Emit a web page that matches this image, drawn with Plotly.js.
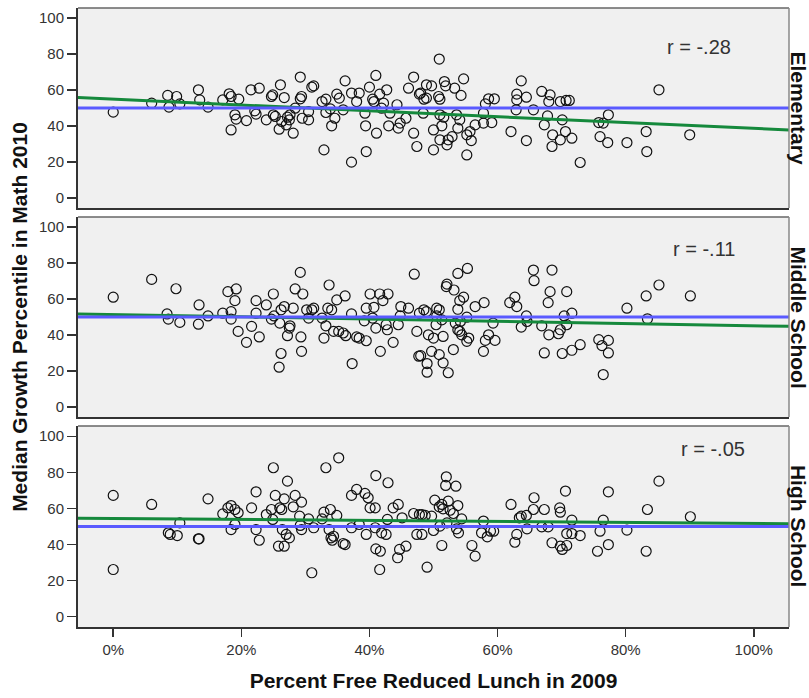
<!DOCTYPE html>
<html>
<head>
<meta charset="utf-8">
<script src="https://cdn.plot.ly/plotly-3.0.1.min.js"></script>
<style>html,body{margin:0;padding:0;background:#fff;}#chart{width:809px;height:698px;}</style>
</head>
<body>
<div id="chart"></div>
<script>
// ---- Data (percent free/reduced lunch 2009, median growth percentile math 2010) ----
const elemX = [0,6.0,8.5,8.7,9.9,10.4,13.3,13.5,14.8,17.1,18.1,18.4,19.6,19.0,19.2,18.4,20.8,21.5,22.8,22.3,22.1,23.9,24.7,24.9,26.1,26.7,25.0,25.3,25.9,26.3,27.2,27.5,27.0,28.1,27.6,29.2,29.4,29.2,28.4,29.5,30.5,30.5,31.0,31.3,32.6,33.2,32.9,33.2,33.9,34.1,34.6,34.9,35.3,36.2,35.9,37.2,37.2,38.0,38.4,39.3,39.4,39.5,40.0,40.5,41.0,40.7,41.1,41.6,41.9,42.2,42.7,43.0,43.2,44.3,44.5,44.8,45.7,46.1,46.9,46.9,47.4,47.8,
  50.9,48.0,48.9,49.7,48.5,48.9,50.8,51.0,51.7,51.9,53.3,54.7,54.3,48.4,51.0,51.3,51.6,50.0,50.0,51.0,52.3,52.1,52.9,53.6,54.1,53.8,55.2,55.7,55.9,55.2,56.5,57.8,58.1,58.6,59.5,59.1,57.8,62.1,63.0,63.0,62.9,63.7,64.5,64.5,65.6,66.9,67.3,68.2,68.0,67.8,68.6,68.5,69.8,70.1,69.8,70.6,70.7,71.2,71.6,72.9,75.8,76.5,77.3,76.0,77.2,80.2,83.2,83.3,85.2,90.0];
const elemY = [47.7,52.7,57.0,50.5,56.4,52.3,60.1,54.5,50.5,54.5,57.9,56.4,54.9,46.2,43.8,37.8,43.0,60.1,61.0,46.6,48.4,43.4,56.4,57.3,62.9,55.8,46.2,45.3,38.2,42.5,44.9,43.4,40.6,36.0,46.2,67.2,56.4,55.1,49.9,44.3,43.4,48.0,61.6,62.3,53.6,54.9,26.7,47.5,49.5,40.1,44.3,57.7,55.5,65.1,49.0,58.3,19.9,53.6,58.3,47.1,40.1,25.8,61.6,54.9,68.1,53.6,36.0,57.7,49.9,52.7,60.1,40.1,47.1,51.8,38.8,41.6,44.3,61.0,67.2,36.0,28.6,57.7,
  77.2,58.3,62.9,62.3,54.9,55.5,56.4,54.9,64.7,62.3,61.0,66.2,57.0,47.1,46.2,40.1,44.9,37.8,26.7,32.3,32.3,29.5,34.1,46.2,43.4,38.8,35.1,36.9,31.9,23.9,40.6,47.1,52.3,55.1,55.1,41.9,41.6,36.9,57.7,54.5,49.0,65.1,56.0,31.9,49.0,59.2,40.6,57.3,53.6,45.6,35.1,28.6,53.6,43.4,32.3,36.9,54.2,54.2,33.2,19.7,41.9,41.6,46.2,34.1,30.8,30.8,36.9,25.8,60.1,35.1];

const middleX = [0,6.0,9.8,8.4,8.6,10.4,13.4,13.3,14.8,17.1,17.9,19.2,19.0,18.4,18.4,19.5,20.8,21.6,22.3,22.3,22.8,23.9,25.0,24.7,25.1,26.2,26.7,26.0,27.2,26.2,25.9,27.5,27.6,28.1,28.4,29.2,29.6,29.3,29.4,30.2,30.5,31.0,31.3,32.6,32.9,33.2,33.5,33.7,34.1,34.4,34.9,35.2,35.9,36.2,36.3,37.2,37.3,38.0,38.4,39.5,39.2,39.5,40.1,40.5,40.7,41.0,41.7,41.6,42.1,42.9,42.6,42.8,43.7,44.5,44.8,44.9,46.1,47.0,47.4,47.7,47.8,
  53.8,55.3,52.1,52.0,53.2,54.7,54.1,53.8,56.5,57.9,59.3,58.6,58.1,59.6,57.8,55.2,55.5,54.4,54.1,53.1,51.5,51.5,52.3,49.0,49.0,48.0,49.7,50.9,50.0,49.2,50.4,50.5,50.9,50.5,51.3,48.9,48.5,54.2,53.4,55.2,53.8,61.9,62.7,63.0,64.5,64.6,63.7,65.6,65.7,68.5,68.2,67.9,70.8,66.9,68.0,67.3,69.8,69.5,70.1,70.4,70.8,71.6,71.6,72.9,75.8,76.3,77.3,77.3,76.5,80.2,83.2,85.2,83.4,90.1];
const middleY = [61.0,70.9,65.7,51.7,48.8,47.0,56.7,46.0,50.6,52.1,64.1,65.6,59.1,53.0,48.8,42.0,35.9,44.8,59.1,52.1,38.9,56.7,62.8,48.8,50.6,54.0,55.8,46.6,39.6,29.7,22.1,43.8,45.1,54.9,65.6,74.8,62.8,38.9,30.9,54.0,49.4,54.0,54.9,49.4,38.3,45.1,54.9,67.8,54.0,42.0,59.5,42.0,41.1,61.7,39.6,51.7,24.1,38.9,38.3,36.8,47.9,54.9,62.8,49.4,55.4,43.8,30.9,62.8,59.1,62.8,45.7,42.9,35.9,45.7,50.6,55.8,54.9,73.8,42.0,28.2,52.1,
  74.2,77.0,68.3,66.9,65.0,61.0,59.1,54.3,55.8,58.0,46.6,40.1,37.0,37.0,30.9,36.5,38.3,40.1,42.0,31.9,39.2,24.5,19.0,19.3,24.1,28.5,30.9,29.1,38.3,40.1,45.7,54.9,54.0,50.6,48.4,53.0,54.0,47.5,46.6,49.9,42.9,58.0,61.0,55.8,50.6,47.5,44.4,76.1,70.2,76.1,64.1,58.0,64.1,45.1,40.1,30.0,42.9,40.7,29.7,50.6,45.7,52.1,31.5,34.6,37.4,34.1,37.0,30.0,18.0,54.9,61.7,67.8,49.0,61.7];

const highX = [0,0,6.0,8.6,8.9,10.0,10.4,13.3,13.4,14.8,17.1,17.9,18.4,19.0,19.5,19.0,18.4,21.6,22.3,22.3,22.8,23.9,24.7,24.9,25.0,25.3,26.0,26.3,26.7,27.2,25.8,26.7,27.0,27.5,26.4,28.1,28.4,29.4,29.1,29.4,29.2,30.5,31.3,31.0,32.6,32.9,33.2,33.9,34.9,33.7,34.0,34.2,34.4,35.2,35.9,36.2,37.2,37.2,38.0,38.4,39.3,39.8,39.5,40.1,40.9,41.0,40.9,41.0,41.7,41.6,41.9,42.6,42.9,42.8,43.7,44.5,44.7,44.4,45.7,45.1,46.9,47.4,47.8,
  49.0,51.3,50.0,49.7,50.2,50.9,51.3,52.0,51.9,53.5,52.3,51.5,52.6,53.8,53.1,54.4,53.9,53.6,51.0,52.1,48.2,48.7,56.0,56.5,57.8,57.5,58.4,59.4,58.9,48.2,62.1,62.7,63.0,63.4,63.7,64.5,64.6,65.6,65.7,66.9,67.3,67.9,68.5,69.7,69.8,69.8,70.1,70.6,70.8,70.8,71.6,71.6,72.9,75.6,76.0,76.5,77.3,77.3,80.2,83.2,83.4,85.2,90.1];
const highY = [67.2,26.2,62.2,46.5,45.6,45.0,52.0,43.2,43.2,65.3,57.0,60.3,61.6,59.4,57.6,51.1,48.3,60.3,69.2,48.3,42.4,56.6,59.4,53.9,82.5,67.2,60.3,59.4,65.3,75.1,39.1,39.1,45.6,43.7,48.3,60.9,67.2,63.5,55.7,48.3,50.6,54.2,49.3,24.4,54.2,57.9,82.5,59.4,56.1,48.3,43.7,42.4,44.6,88.0,40.6,40.0,49.3,67.2,70.5,51.1,68.3,65.9,45.6,60.3,60.3,78.2,49.3,37.6,36.3,26.2,46.5,45.6,74.2,53.9,60.3,62.2,37.3,32.7,39.1,54.8,57.2,45.6,56.6,
  27.5,39.5,47.8,55.7,64.6,60.9,62.2,77.5,72.7,72.3,64.0,59.8,59.0,61.6,57.2,54.2,46.5,48.7,50.2,52.0,56.6,56.1,39.5,33.6,53.0,46.5,44.3,47.4,47.4,45.6,62.2,41.3,45.6,54.8,55.7,56.1,48.7,59.4,65.9,49.8,59.4,49.8,41.0,60.3,57.9,39.1,37.3,69.6,39.5,46.1,46.1,53.5,45.0,36.3,47.4,53.5,40.0,69.2,48.0,36.3,59.4,75.1,55.4];

// fit lines (endpoints at axis range ends) and reference line
const fitX = [-5.5, 105.5];
const elemFitY = [55.8, 37.8];
const middleFitY = [51.7, 44.8];
const highFitY = [54.6, 51.5];
const refY = [50, 50];

const panelNames = ['Elementary', 'Middle School', 'High School'];
const rLabels = ['r = -.28', 'r = -.11', 'r = -.05'];
const xTickVals = [0, 20, 40, 60, 80, 100];
const yTickVals = [0, 20, 40, 60, 80, 100];

// ---- Build ----
const FONT = '"Liberation Sans", Arial, sans-serif';
const GREEN = '#15893c';
const BLUE = '#5a5aff';
const panels = [
  {x: elemX, y: elemY, fit: elemFitY, xa: 'x3', ya: 'y3'},
  {x: middleX, y: middleY, fit: middleFitY, xa: 'x2', ya: 'y2'},
  {x: highX, y: highY, fit: highFitY, xa: 'x', ya: 'y'}
];
const traces = [];
panels.forEach(p => {
  traces.push({type: 'scatter', mode: 'markers', x: p.x, y: p.y, xaxis: p.xa, yaxis: p.ya,
    marker: {symbol: 'circle-open', size: 10, color: '#111', line: {width: 1.2, color: '#111'}},
    hoverinfo: 'x+y', showlegend: false, cliponaxis: true});
  traces.push({type: 'scatter', mode: 'lines', x: fitX, y: p.fit, xaxis: p.xa, yaxis: p.ya,
    line: {color: GREEN, width: 3}, showlegend: false, hoverinfo: 'skip'});
  traces.push({type: 'scatter', mode: 'lines', x: fitX, y: refY, xaxis: p.xa, yaxis: p.ya,
    line: {color: BLUE, width: 3}, showlegend: false, hoverinfo: 'skip'});
});

const H = 619; // plot height in px (t=8, b=71)
const dom = (topPx, botPx) => [(627 - botPx) / H, (627 - topPx) / H];
const baseY = {
  range: [-5.6, 105.6], tickvals: yTickVals, ticks: 'outside', ticklen: 9, tickwidth: 1.2, tickcolor: '#333',
  showgrid: false, zeroline: false, showline: true, mirror: false, linecolor: '#333', linewidth: 2,
  tickfont: {family: FONT, size: 15, color: '#333'}, fixedrange: true
};
const baseX = {
  range: [-5.5, 105.5], showgrid: false, zeroline: false, showline: true, mirror: false,
  linecolor: '#333', linewidth: 2, fixedrange: true
};
const layout = {
  width: 809, height: 698,
  margin: {l: 78, r: 20, t: 8, b: 71},
  paper_bgcolor: '#ffffff', plot_bgcolor: '#f0f0f0',
  font: {family: FONT, color: '#222'},
  showlegend: false,
  xaxis: Object.assign({}, baseX, {anchor: 'y', tickvals: xTickVals, ticktext: xTickVals.map(v => v + '%'),
    ticks: 'outside', ticklen: 8, tickwidth: 1.5, tickcolor: '#333', tickfont: {family: FONT, size: 15, color: '#333'},
    title: {text: 'Percent Free Reduced Lunch in 2009', font: {family: FONT, size: 21, color: '#111', weight: 'bold'}, standoff: 16}}),
  xaxis2: Object.assign({}, baseX, {anchor: 'y2', showticklabels: false, ticks: ''}),
  xaxis3: Object.assign({}, baseX, {anchor: 'y3', showticklabels: false, ticks: ''}),
  yaxis: Object.assign({}, baseY, {domain: dom(426, 627), anchor: 'x'}),
  yaxis2: Object.assign({}, baseY, {domain: dom(217, 417), anchor: 'x2',
    title: {text: 'Median Growth Percentile in Math 2010', font: {family: FONT, size: 21, color: '#111', weight: 'bold'}, standoff: 6}}),
  yaxis3: Object.assign({}, baseY, {domain: dom(8, 208), anchor: 'x3'}),
  annotations: [],
  shapes: []
};
const rPos = [{x: 91.5, y: 84}, {x: 92.3, y: 88}, {x: 93.6, y: 93}];
['y3', 'y2', 'y'].forEach((ya, i) => {
  const xa = ['x3', 'x2', 'x'][i];
  layout.annotations.push({xref: xa, yref: ya, x: rPos[i].x, y: rPos[i].y, text: rLabels[i], showarrow: false,
    font: {family: FONT, size: 20, color: '#333'}, xanchor: 'center', yanchor: 'middle'});
  layout.annotations.push({xref: 'paper', yref: ya + ' domain', x: 1.0135, y: 0.5, text: panelNames[i], showarrow: false,
    textangle: 90, font: {family: FONT, size: 21, color: '#111', weight: 'bold'}, xanchor: 'center', yanchor: 'middle'});
  // top and right panel borders (lighter than the axis lines)
  layout.shapes.push({type: 'line', xref: xa + ' domain', yref: ya + ' domain', x0: 0, x1: 1, y0: 1, y1: 1,
    line: {color: '#666', width: 1.5}, layer: 'above'});
  layout.shapes.push({type: 'line', xref: xa + ' domain', yref: ya + ' domain', x0: 1, x1: 1, y0: 0, y1: 1,
    line: {color: '#888', width: 1.5}, layer: 'above'});
});

Plotly.newPlot('chart', traces, layout, {staticPlot: true, displayModeBar: false});
</script>
</body>
</html>
